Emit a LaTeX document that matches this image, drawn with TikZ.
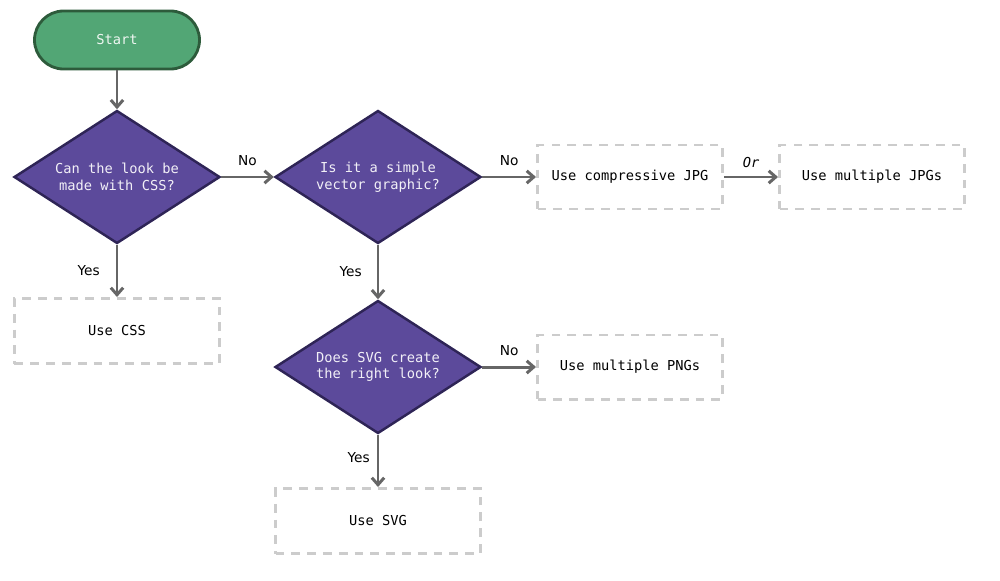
\documentclass[tikz,border=0pt]{standalone}
\usepackage{fontspec}
\setmainfont{DejaVu Sans}
\newfontfamily\monofont{DejaVu Sans Mono}
\usetikzlibrary{arrows.meta,positioning,shapes.geometric}
\definecolor{startfill}{HTML}{52A675}
\definecolor{startline}{HTML}{2D5B3B}
\definecolor{askfill}{HTML}{5C4A9B}
\definecolor{askline}{HTML}{2E2456}
\definecolor{boxline}{HTML}{CCCCCC}
\definecolor{flowgray}{HTML}{666666}

\begin{document}
\begin{tikzpicture}[>={Straight Barb[length=4pt,width=7pt]}, on grid,
    font=\fontsize{7.8}{9.5}\selectfont,
    startbox/.style={draw=startline, fill=startfill, line width=1.6pt,
        rounded corners=0.58cm, minimum width=3.3cm, minimum height=1.16cm,
        text=white!90!startfill, font=\monofont\fontsize{7.8}{9.5}\selectfont},
    ask/.style={diamond, aspect=1.55, draw=askline, fill=askfill, line width=1.4pt,
        inner sep=0pt, minimum width=4.12cm, minimum height=2.66cm, align=center,
        text=white!92!askfill, font=\monofont\fontsize{7.8}{9.5}\selectfont},
    outcome/.style={draw=boxline, line width=1.7pt, dash pattern=on 5pt off 4pt,
        minimum width=3.7cm, minimum height=1.28cm,
        font=\monofont\fontsize{7.8}{9.5}\selectfont},
    widebox/.style={outcome, minimum width=4.1cm, minimum height=1.3cm},
    flow/.style={->, draw=flowgray, line width=1.7pt},
    answer/.style={font=\fontsize{7.8}{9.5}\selectfont}]

    \useasboundingbox (0,0) rectangle (20,-11.6);

    \node[startbox] (start) at (2.34,-0.80) {Start};
    \node[ask] (css) [below=2.74cm of start] {Can the look be\\made with CSS?};
    \node[ask] (vector) [right=5.22cm of css] {Is it a simple\\vector graphic?};
    \node[outcome] (jpg) [right=5.04cm of vector] {Use compressive JPG};
    \node[outcome] (jpgs) [right=4.84cm of jpg] {Use multiple JPGs};
    \node[widebox] (usecss) [below=3.08cm of css] {Use CSS};
    \node[ask] (svg) [below=3.8cm of vector] {Does SVG create\\the right look?};
    \node[outcome] (pngs) [right=5.04cm of svg] {Use multiple PNGs};
    \node[widebox] (usesvg) [below=3.08cm of svg] {Use SVG};

    \draw[flow] (start) -- (css);
    \draw[flow] (css) -- node[answer, above, yshift=2pt] {No} (vector);
    \draw[flow] (vector) -- node[answer, above, yshift=2pt] {No} (jpg);
    \draw[flow] (jpg) -- node[answer, above, yshift=1pt, font=\monofont\itshape\fontsize{7.8}{9.5}\selectfont] {Or} (jpgs);
    \draw[flow] (css) -- node[answer, left=0.2cm] {Yes} (usecss);
    \draw[flow] (vector) -- node[answer, left=0.18cm] {Yes} (svg);
    \draw[flow] (svg) -- node[answer, above, yshift=2pt] {No} (pngs);
    \draw[flow] (svg) -- node[answer, left=0.02cm, yshift=2pt] {Yes} (usesvg);
\end{tikzpicture}
\end{document}
